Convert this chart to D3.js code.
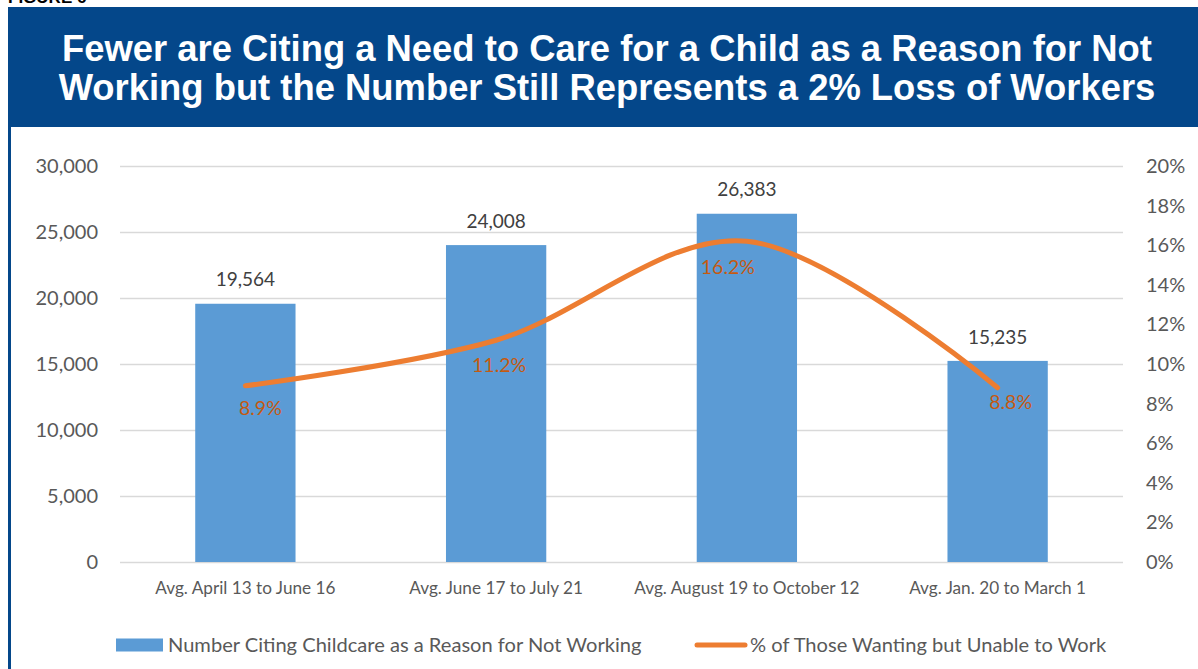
<!DOCTYPE html>
<html>
<head>
<meta charset="utf-8">
<script src="https://cdn.jsdelivr.net/npm/d3@7"></script>
<style>
  html, body { margin: 0; padding: 0; background: #fff; }
  #mainbox { width: 1198px; height: 669px; overflow: hidden; }
  .axis text { font-family: Lato, sans-serif; fill: #595959; }
  .axis .domain { display: none; }
</style>
</head>
<body>
<div id="mainbox"></div>
<script>
// chart values
const categories = ['Avg. April 13 to June 16', 'Avg. June 17 to July 21', 'Avg. August 19 to October 12', 'Avg. Jan. 20 to March 1'];
const childcareCounts = [19564, 24008, 26383, 15235];
const sharePct = [8.9, 11.2, 16.2, 8.8];
const leftTicks = [0, 5000, 10000, 15000, 20000, 25000, 30000];
const rightTicks = [0, 2, 4, 6, 8, 10, 12, 14, 16, 18, 20];
const seriesNames = ['Number Citing Childcare as a Reason for Not Working', '% of Those Wanting but Unable to Work'];
const titleLines = ['Fewer are Citing a Need to Care for a Child as a Reason for Not', 'Working but the Number Still Represents a 2% Loss of Workers'];

// layout (not data)
const margin = {t:166, r:75, b:107, l:120};
const w_svg = 1198, h_svg = 669;
const w = w_svg - margin.l - margin.r,
      h = h_svg - margin.t - margin.b;
// the % labels were nudged by hand in the original
const pctLabelNudge = [[15, 22], [3, 25], [-19, 26], [13, 14]];

const blue = '#04478A', barColor = '#5B9BD5', lineColor = '#ED7D31', pctColor = '#C55A11';

let svgMain = d3.select('#mainbox')
  .append('svg')
  .attr('width', w_svg)
  .attr('height', h_svg);

// header (figure number is cropped at the top in the original too)
svgMain.append('text')
  .attr('x', 8).attr('y', 3)
  .style('font-family', 'Liberation Sans, Arial, sans-serif')
  .style('font-weight', 'bold').style('font-size', '17px')
  .text('FIGURE 6');

svgMain.append('rect')
  .attr('x', 8).attr('y', 7)
  .attr('width', w_svg - 8).attr('height', 120)
  .attr('fill', blue);

svgMain.append('rect')
  .attr('x', 8).attr('y', 127)
  .attr('width', 3).attr('height', h_svg - 127)
  .attr('fill', blue);

svgMain.append('g').selectAll('text')
  .data(titleLines)
  .enter().append('text')
  .attr('x', 607)
  .attr('y', (d, i) => 61 + i * 39)
  .attr('text-anchor', 'middle')
  .attr('fill', '#fff')
  .style('font-family', 'Liberation Sans, Arial, sans-serif')
  .style('font-weight', 'bold')
  .style('font-size', '36.4px')
  .text(d => d);

let plot = svgMain.append('g')
  .attr('transform', `translate(${margin.l},${margin.t})`);

const scaleX = d3.scaleBand().domain(categories).range([0, w]).paddingInner(0.6).paddingOuter(0.3);
const scaleY = d3.scaleLinear().domain([0, 30000]).range([h, 0]);
const scaleY2 = d3.scaleLinear().domain([0, 20]).range([h, 0]);

const axisY = d3.axisLeft(scaleY)
  .tickValues(leftTicks)
  .tickSize(-w)
  .tickPadding(22)
  .tickFormat(d3.format(','));

const axisY2 = d3.axisRight(scaleY2)
  .tickValues(rightTicks)
  .tickSize(0)
  .tickPadding(23)
  .tickFormat(d => d + '%');

const axisX = d3.axisBottom(scaleX).tickSize(0).tickPadding(20);

const axisYNode = plot.append('g').attr('class', 'axis axis-y').call(axisY);
axisYNode.selectAll('line').attr('stroke', '#d9d9d9').attr('stroke-width', 1.5);
axisYNode.selectAll('text').style('font-size', '20px');

const axisY2Node = plot.append('g').attr('class', 'axis axis-y2')
  .attr('transform', `translate(${w},0)`)
  .call(axisY2);
axisY2Node.selectAll('text').style('font-size', '20px');

const axisXNode = plot.append('g').attr('class', 'axis axis-x')
  .attr('transform', `translate(0,${h})`)
  .call(axisX);
axisXNode.selectAll('text').style('font-size', '17.2px');

// bars
plot.selectAll('.bar')
  .data(childcareCounts)
  .enter().append('rect')
  .attr('class', 'bar')
  .attr('x', (d, i) => scaleX(categories[i]))
  .attr('y', d => scaleY(d))
  .attr('width', scaleX.bandwidth())
  .attr('height', d => h - scaleY(d))
  .attr('fill', barColor);

plot.selectAll('.bar-label')
  .data(childcareCounts)
  .enter().append('text')
  .attr('class', 'bar-label')
  .attr('x', (d, i) => scaleX(categories[i]) + scaleX.bandwidth() / 2)
  .attr('y', d => scaleY(d) - 24)
  .attr('dy', '0.35em')
  .attr('text-anchor', 'middle')
  .attr('fill', '#404040')
  .style('font-family', 'Lato, sans-serif')
  .style('font-size', '19px')
  .text(d => d3.format(',')(d));

// smoothed line
const cx = (d, i) => scaleX(categories[i]) + scaleX.bandwidth() / 2;
const line = d3.line()
  .x(cx)
  .y(d => scaleY2(d))
  .curve(d3.curveCardinal.tension(0));

plot.append('path')
  .datum(sharePct)
  .attr('d', line)
  .attr('fill', 'none')
  .attr('stroke', lineColor)
  .attr('stroke-width', 5)
  .attr('stroke-linecap', 'round');

plot.selectAll('.pct-label')
  .data(sharePct)
  .enter().append('text')
  .attr('class', 'pct-label')
  .attr('x', (d, i) => cx(d, i) + pctLabelNudge[i][0])
  .attr('y', (d, i) => scaleY2(d) + pctLabelNudge[i][1])
  .attr('dy', '0.35em')
  .attr('text-anchor', 'middle')
  .attr('fill', pctColor)
  .style('font-family', 'Lato, sans-serif')
  .style('font-size', '19.5px')
  .text(d => d.toFixed(1) + '%');

// legend
let legend = svgMain.append('g').attr('transform', 'translate(0,645)');
legend.append('rect')
  .attr('x', 116).attr('y', -6.5)
  .attr('width', 47).attr('height', 13)
  .attr('fill', barColor);
legend.append('line')
  .attr('x1', 697).attr('x2', 745)
  .attr('stroke', lineColor).attr('stroke-width', 5)
  .attr('stroke-linecap', 'round');
legend.selectAll('text')
  .data(seriesNames)
  .enter().append('text')
  .attr('x', (d, i) => i === 0 ? 168 : 750)
  .attr('dy', '0.35em')
  .attr('fill', '#595959')
  .style('font-family', 'Lato, sans-serif')
  .style('font-size', '20.1px')
  .text(d => d);
</script>
</body>
</html>
